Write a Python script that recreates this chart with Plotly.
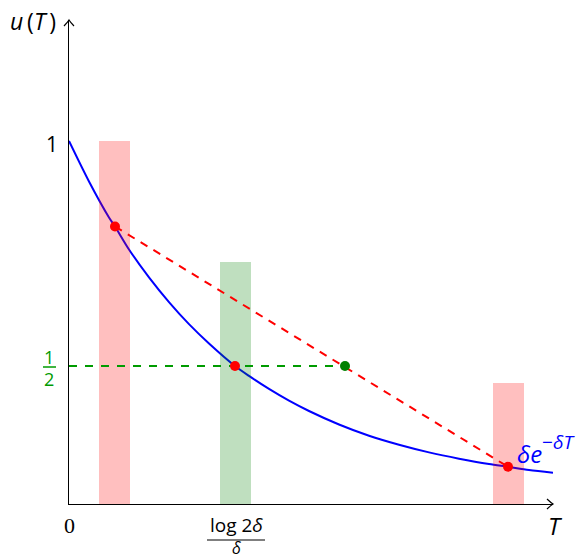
import plotly.graph_objects as go

# ---- data (schematic units) ----
curve_T = [0.00, 0.20, 0.40, 0.46, 0.60, 0.80, 1.00, 1.20, 1.40, 1.66, 1.80, 2.00, 2.20, 2.40, 2.70, 3.00, 3.30, 3.60, 3.90, 4.20, 4.39, 4.60, 4.84]
curve_u = [1.000, 0.910, 0.830, 0.810, 0.759, 0.697, 0.642, 0.593, 0.550, 0.500, 0.478, 0.449, 0.423, 0.400, 0.370, 0.345, 0.325, 0.308, 0.294, 0.282, 0.276, 0.269, 0.263]

bar_T = [0.455, 1.665, 4.395]
bar_top = [1.000, 0.731, 0.462]
bar_colors = ["rgba(255,0,0,0.25)", "rgba(0,128,0,0.25)", "rgba(255,0,0,0.25)"]
bar_width = 0.31

red_T = [0.46, 1.66, 4.39]
red_u = [0.810, 0.500, 0.276]

chord_T = [0.46, 4.39]
chord_u = [0.810, 0.276]

half_T = [0.0, 2.76]
half_u = [0.5, 0.5]

green_T = [2.76]
green_u = [0.5]

x_range = [0.0, 4.84]
y_range = [0.1933, 1.2689]

BLUE = "rgb(0,0,255)"
RED = "rgb(255,0,0)"
GREEN = "rgb(0,155,0)"
DKGREEN = "rgb(0,128,0)"
SANS = "Open Sans"

PLOT_L, PLOT_T, PLOT_W, PLOT_H = 69, 20, 484, 484
W, H = 588, 560

def px2paper(px, py):
    return (px - PLOT_L) / PLOT_W, (PLOT_T + PLOT_H - py) / PLOT_H

fig = go.Figure()

# curve first (rectangles are drawn translucently on top of it)
fig.add_trace(go.Scatter(x=curve_T, y=curve_u, mode="lines",
                         line=dict(color=BLUE, width=2, shape="spline", smoothing=0.8),
                         hoverinfo="skip", showlegend=False))

# translucent rectangles
for c, top, col in zip(bar_T, bar_top, bar_colors):
    x0, x1 = c - bar_width / 2, c + bar_width / 2
    fig.add_trace(go.Scatter(x=[x0, x1, x1, x0, x0], y=[y_range[0], y_range[0], top, top, y_range[0]],
                             mode="lines", fill="toself", fillcolor=col, line=dict(width=0),
                             hoverinfo="skip", showlegend=False))

# chord (red dashed) and half level (green dashed)
fig.add_trace(go.Scatter(x=chord_T, y=chord_u, mode="lines",
                         line=dict(color=RED, width=2, dash="8px,7px"),
                         hoverinfo="skip", showlegend=False))
fig.add_trace(go.Scatter(x=half_T, y=half_u, mode="lines",
                         line=dict(color=GREEN, width=2, dash="8px,8px"),
                         hoverinfo="skip", showlegend=False))

# dots
fig.add_trace(go.Scatter(x=red_T, y=red_u, mode="markers",
                         marker=dict(color=RED, size=10, line=dict(width=0)),
                         hoverinfo="skip", showlegend=False, cliponaxis=False))
fig.add_trace(go.Scatter(x=green_T, y=green_u, mode="markers",
                         marker=dict(color=DKGREEN, size=10, line=dict(width=0)),
                         hoverinfo="skip", showlegend=False, cliponaxis=False))

# axis arrowheads
fig.add_shape(type="path", xref="paper", yref="paper", xsizemode="pixel", ysizemode="pixel",
              xanchor=1, yanchor=0, path="M-6,5 Q-2,1.2 0,0 Q-2,-1.2 -6,-5",
              line=dict(color="black", width=1.2))
fig.add_shape(type="path", xref="paper", yref="paper", xsizemode="pixel", ysizemode="pixel",
              xanchor=0, yanchor=1, path="M-5,-6 Q-1.2,-2 0,0 Q1.2,-2 5,-6",
              line=dict(color="black", width=1.2))

# fraction bars
def hbar(px0, px1, py, color, width):
    x0, y0 = px2paper(px0, py)
    x1, _ = px2paper(px1, py)
    fig.add_shape(type="line", xref="paper", yref="paper", x0=x0, x1=x1, y0=y0, y1=y0,
                  line=dict(color=color, width=width))

hbar(43, 56, 367, GREEN, 1.5)
hbar(207, 265, 540, "black", 1.2)

def ann(px, py, text, size=20, color="black", family=SANS, xanchor="center", yanchor="middle"):
    x, y = px2paper(px, py)
    fig.add_annotation(x=x, y=y, xref="paper", yref="paper", text=text, showarrow=False,
                       font=dict(family=family, size=size, color=color),
                       xanchor=xanchor, yanchor=yanchor, borderpad=0)

ann(33, 21, "<i>u</i>\u2009(<i>T</i>\u2009)", size=23)
ann(52, 144, "1", size=21)
ann(49, 357, "1", size=18, color=GREEN)
ann(49, 379, "2", size=18, color=GREEN)
ann(69, 525, "0", size=22, family="Liberation Serif")
ann(555, 525, "<i>T</i>", size=24)
ann(236, 525, "log 2<i>δ</i>", size=19)
ann(236, 560, "<i>δ</i>", size=16, yanchor="bottom")
ann(516, 453, "<i>δe</i>", size=24, color=BLUE, xanchor="left")
ann(541, 442, "−<i>δT</i>", size=19, color=BLUE, xanchor="left")

fig.update_layout(
    width=W, height=H,
    margin=dict(l=PLOT_L, r=W - PLOT_L - PLOT_W, t=PLOT_T, b=H - PLOT_T - PLOT_H),
    paper_bgcolor="white", plot_bgcolor="white",
    showlegend=False,
    xaxis=dict(range=x_range, showgrid=False, zeroline=False, showticklabels=False, ticks="",
               showline=True, linecolor="black", linewidth=1.2, fixedrange=True),
    yaxis=dict(range=y_range, showgrid=False, zeroline=False, showticklabels=False, ticks="",
               showline=True, linecolor="black", linewidth=1.2, fixedrange=True),
)

fig.write_html("out.html",
               config={"displayModeBar": False, "staticPlot": True},
               post_script="document.documentElement.style.margin='0px';"
                           "document.body.style.margin='0px';document.body.style.padding='0px';"
                           "document.body.style.overflow='hidden';")
